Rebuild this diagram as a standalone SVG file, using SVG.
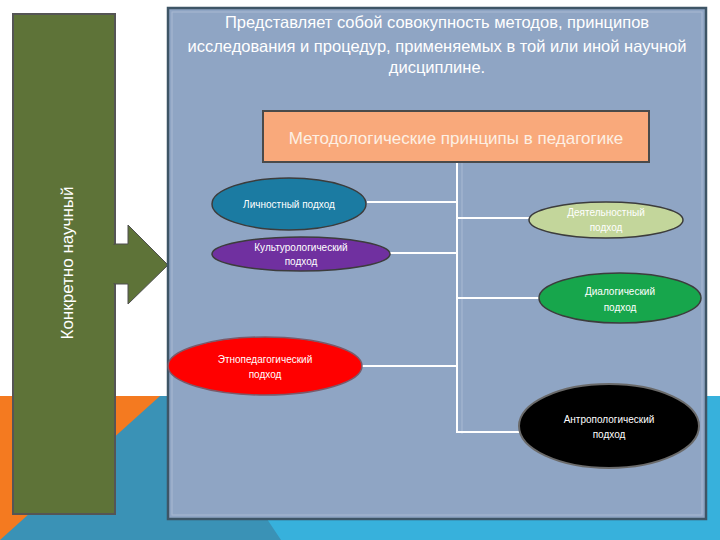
<svg xmlns="http://www.w3.org/2000/svg" width="720" height="540" viewBox="0 0 720 540">
<style>
text{font-family:"Liberation Sans",Arial,sans-serif;fill:#ffffff}
.node ellipse{stroke:#3c3c3c;stroke-width:1.5}
.small{font-size:10px;text-anchor:middle}
.conn line{stroke:#ffffff;stroke-width:2}
</style>
<rect width="720" height="540" fill="#ffffff"/>
<g id="background">
<rect x="0" y="396" width="720" height="144" fill="#37b1dc"/>
<polygon points="0,396 185,396 281,540 0,540" fill="#3a92b6"/>
<polygon points="0,396 160,396 0,540" fill="#f47a20"/>
</g>
<g id="side-bar">
<rect x="13" y="14" width="102" height="500" fill="#5e7338" stroke="#555555" stroke-width="2"/>
<polygon points="114,244 128,244 128,225 168,265 128,304 128,284 114,284" fill="#5e7338" stroke="#4f4f4f" stroke-width="1"/>
<rect x="112" y="245" width="4" height="38" fill="#5e7338"/>
<text transform="translate(73,263) rotate(-90)" font-size="17" text-anchor="middle">Конкретно научный</text>
</g>
<g id="main-box">
<rect x="168" y="8" width="538" height="511" fill="#8fa5c4" stroke="#3e5566" stroke-width="2.5"/>
<rect x="172" y="12" width="530" height="503" fill="none" stroke="#a9b9d2" stroke-width="1"/>
<text font-size="16.5" text-anchor="middle"><tspan x="437" y="28">Представляет собой совокупность методов, принципов</tspan><tspan x="437" y="52">исследования и процедур, применяемых в той или иной научной</tspan><tspan x="437" y="73">дисциплине.</tspan></text>
</g>
<g id="connectors" class="conn">
<line x1="462" y1="163" x2="462" y2="434" style="stroke:#a9bad3;stroke-width:1"/>
<line x1="457" y1="162" x2="457" y2="433"/>
<line x1="457" y1="202" x2="367" y2="202"/>
<line x1="457" y1="218" x2="530" y2="218"/>
<line x1="457" y1="253" x2="390" y2="253"/>
<line x1="457" y1="298" x2="539" y2="298"/>
<line x1="457" y1="366" x2="362" y2="366"/>
<line x1="457" y1="432" x2="520" y2="432"/>
</g>
<g id="root">
<rect x="263" y="111" width="386" height="51" fill="#f9a97b" stroke="#4a4a4a" stroke-width="2"/>
<text x="456" y="144" font-size="17" text-anchor="middle" style="fill:#fdf0e4">Методологические принципы в педагогике</text>
</g>
<g id="lichnostny" class="node">
<ellipse cx="289" cy="204" rx="77" ry="26" fill="#1b7ba2"/>
<text class="small" x="289" y="208">Личностный подход</text>
</g>
<g id="kulturologichesky" class="node">
<ellipse cx="301" cy="254" rx="89" ry="17" fill="#7030a0"/>
<text class="small" x="301" y="251">Культурологический</text>
<text class="small" x="301" y="265">подход</text>
</g>
<g id="deyatelnostny" class="node">
<ellipse cx="606" cy="220" rx="77" ry="18" fill="#c3d69b"/>
<text class="small" x="606" y="216">Деятельностный</text>
<text class="small" x="606" y="231">подход</text>
</g>
<g id="dialogichesky" class="node">
<ellipse cx="620" cy="298" rx="81" ry="25" fill="#17a64c"/>
<text class="small" x="620" y="295">Диалогический</text>
<text class="small" x="620" y="311">подход</text>
</g>
<g id="etnopedagogichesky" class="node">
<ellipse cx="265" cy="366" rx="97" ry="29" fill="#ff0000" style="stroke:#7a5a6a"/>
<text class="small" x="265" y="363">Этнопедагогический</text>
<text class="small" x="265" y="378">подход</text>
</g>
<g id="antropologichesky" class="node">
<ellipse cx="609" cy="426" rx="90" ry="42" fill="#000000" style="stroke:#6a6a6a;stroke-width:2"/>
<text class="small" x="609" y="423" font-size="11">Антропологический</text>
<text class="small" x="609" y="438" font-size="11">подход</text>
</g>
</svg>
